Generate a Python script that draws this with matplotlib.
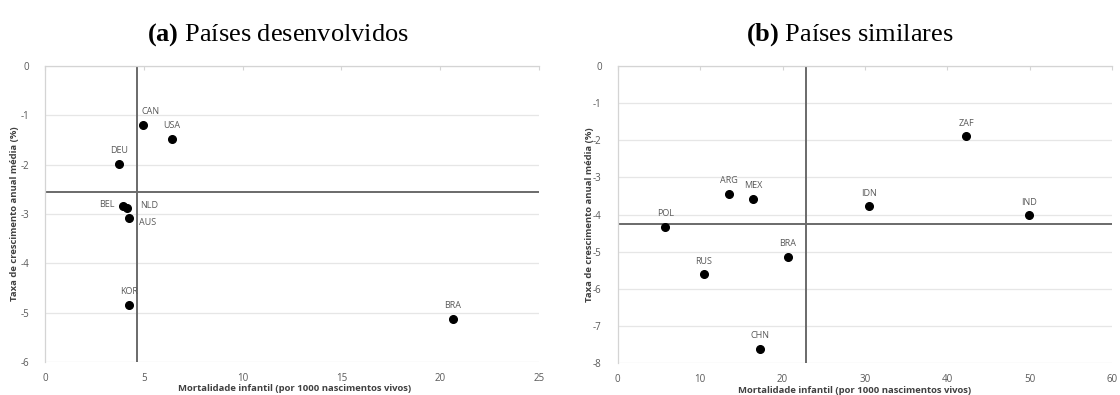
import matplotlib.pyplot as plt
import numpy as np

plt.rcParams["axes.unicode_minus"] = False
plt.rcParams["mathtext.fontset"] = "custom"
plt.rcParams["mathtext.rm"] = "Liberation Serif"
plt.rcParams["mathtext.bf"] = "Liberation Serif:bold"

# painel (a): paises desenvolvidos
dev_codes = ["CAN", "USA", "DEU", "BEL", "NLD", "AUS", "KOR", "BRA"]
dev_mort = [4.97, 6.44, 3.73, 3.93, 4.13, 4.27, 4.27, 20.65]
dev_taxa = [-1.20, -1.48, -1.98, -2.83, -2.88, -3.08, -4.84, -5.13]
dev_vline = 4.64
dev_hline = -2.56

# painel (b): paises similares
sim_codes = ["POL", "ARG", "MEX", "RUS", "BRA", "CHN", "ZAF", "IDN", "IND"]
sim_mort = [5.78, 13.54, 16.41, 10.47, 20.62, 17.26, 42.28, 30.52, 49.89]
sim_taxa = [-4.33, -3.45, -3.58, -5.61, -5.14, -7.61, -1.89, -3.78, -4.02]
sim_vline = 22.88
sim_hline = -4.24

# deslocamento dos rotulos (pontos) e alinhamento
above = ((0, 9.5), "center")
dev_offsets = {"CAN": ((5, 9.5), "center"), "BEL": ((-6, 1), "right"),
               "NLD": ((10, 2), "left"), "AUS": ((7, -3), "left")}
sim_offsets = {}

txt_gray = "#595959"
lab_gray = "#404040"
grid_gray = "#e6e6e6"
line_gray = "#6a6a6a"
sans = ["Open Sans", "DejaVu Sans"]


def draw_panel(ax, codes, xs, ys, vline, hline, offsets, xlim, ylim, xticks, yticks):
    ax.set_xlim(*xlim)
    ax.set_ylim(*ylim)
    ax.set_xticks(xticks)
    ax.set_yticks(yticks)
    ax.grid(axis="y", color=grid_gray, lw=0.9)
    ax.set_axisbelow(True)
    for s in ["right", "bottom"]:
        ax.spines[s].set_visible(False)
    for s in ["top", "left"]:
        ax.spines[s].set_color("#d4d4d4")
        ax.spines[s].set_linewidth(0.9)
    ax.tick_params(axis="x", top=True, bottom=False, labeltop=False, labelbottom=True,
                   direction="in", length=3, color="#d4d4d4", labelsize=7,
                   labelcolor=txt_gray, pad=8)
    ax.tick_params(axis="y", left=False, labelsize=7, labelcolor=txt_gray, pad=8)
    for lab in ax.get_xticklabels() + ax.get_yticklabels():
        lab.set_family(sans)
    ax.axvline(vline, color=line_gray, lw=1.4, zorder=2)
    ax.axhline(hline, color=line_gray, lw=1.4, zorder=2)
    ax.plot(xs, ys, "o", color="black", ms=5.5, zorder=3, clip_on=False)
    for c, x, y in zip(codes, xs, ys):
        off, ha = offsets.get(c, above)
        ax.annotate(c, (x, y), xytext=off, textcoords="offset points",
                    ha=ha, va="center", fontsize=6.5, color=txt_gray, family=sans)
    ax.set_xlabel("Mortalidade infantil (por 1000 nascimentos vivos)", fontsize=6.8,
                  fontweight="bold", color=lab_gray, family=sans)
    ax.set_ylabel("Taxa de crescimento anual média (%)", fontsize=6.8,
                  fontweight="bold", color=lab_gray, family=sans)


fig = plt.figure(figsize=(11.2, 3.95), dpi=100)
ax1 = fig.add_axes([0.0402, 0.0835, 0.441, 0.7495])
ax2 = fig.add_axes([0.5515, 0.0803, 0.4416, 0.7527])

draw_panel(ax1, dev_codes, dev_mort, dev_taxa, dev_vline, dev_hline, dev_offsets,
           (0, 25), (-6, 0), np.arange(0, 26, 5), np.arange(-6, 1, 1))
draw_panel(ax2, sim_codes, sim_mort, sim_taxa, sim_vline, sim_hline, sim_offsets,
           (0, 60), (-8, 0), np.arange(0, 61, 10), np.arange(-8, 1, 1))

ax1.xaxis.set_label_coords(0.506, -0.075)
ax2.xaxis.set_label_coords(0.478, -0.075)
ax1.yaxis.set_label_coords(-0.052, 0.5)
ax2.yaxis.set_label_coords(-0.047, 0.5)

for xc, tag, name in [(277.5 / 1120, "(a)", "Países desenvolvidos"),
                      (850 / 1120, "(b)", "Países similares")]:
    fig.text(xc, 1 - 35 / 395, r"$\mathbf{" + tag + "}$" + " " + name, ha="center",
             va="center", fontsize=19, family=["Liberation Serif", "DejaVu Serif"])

fig.savefig("out.png", dpi=100)
